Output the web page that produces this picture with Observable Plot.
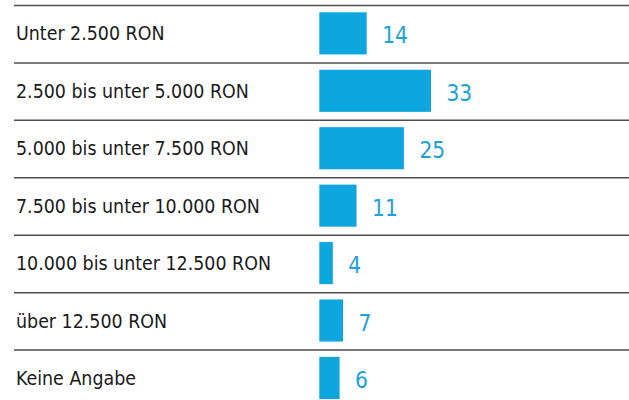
<!DOCTYPE html>
<html>
<head>
<meta charset="utf-8">
<script src="https://cdn.jsdelivr.net/npm/d3@7"></script>
<script src="https://cdn.jsdelivr.net/npm/@observablehq/plot@0.6"></script>
<style>
  html, body { margin: 0; padding: 0; background: #fff; }
  #chart svg text { font-stretch: condensed; }
</style>
</head>
<body>
<div id="chart"></div>
<script>
const categories = [
  "Unter 2.500 RON",
  "2.500 bis unter 5.000 RON",
  "5.000 bis unter 7.500 RON",
  "7.500 bis unter 10.000 RON",
  "10.000 bis unter 12.500 RON",
  "über 12.500 RON",
  "Keine Angabe"
];
const values = [14, 33, 25, 11, 4, 7, 6];

const data = categories.map((c, i) => ({category: c, value: values[i]}));

const W = 629, H = 400;
const marginTop = 5, marginBottom = -7;
const step = (H - marginBottom - marginTop) / categories.length;
const blue = "#0da6df";
const font = "'DejaVu Sans Condensed', 'DejaVu Sans', sans-serif";

const chart = Plot.plot({
  width: W,
  height: H,
  marginLeft: 14,
  marginRight: 0,
  marginTop,
  marginBottom,
  style: {fontFamily: font, background: "#fff"},
  x: {domain: [-90.2, 91.5], axis: null},
  y: {domain: categories, padding: 0, round: false, axis: null},
  marks: [
    Plot.ruleY(categories, {y: d => d, dy: -step / 2, stroke: "#4d4d4d", strokeWidth: 1.5}),
    Plot.barX(data, {x1: 0, x2: "value", y: "category", fill: blue, insetTop: 7.3, insetBottom: 8}),
    Plot.text(categories, {y: d => d, frameAnchor: "left", textAnchor: "start", dx: 1.5, fontSize: 19.4, fill: "#1a1a1a", fontFamily: font}),
    Plot.text(data, {x: "value", y: "category", text: d => String(d.value), textAnchor: "start", dx: 15, dy: 2, fontSize: 22.5, fill: "#1ba2dc", fontFamily: font})
  ]
});
document.getElementById("chart").appendChild(chart);
</script>
</body>
</html>
